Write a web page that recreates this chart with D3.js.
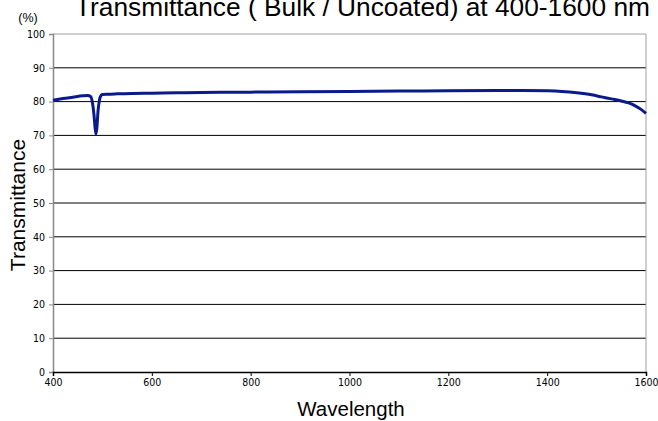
<!DOCTYPE html>
<html>
<head>
<meta charset="utf-8">
<script src="https://cdn.jsdelivr.net/npm/d3@7"></script>
<style>
  body { margin: 0; background: #fff; }
  text { font-family: "Liberation Sans", Arial, sans-serif; }
</style>
</head>
<body>
<script>
//Width and height
var w = 658;
var h = 421;

//Chart data
var wavelength = [400, 420, 440, 460, 470, 476, 480, 483, 485, 487, 489, 491, 494, 497, 500,
                  510, 530, 560, 600, 650, 700, 800, 900, 1000, 1100, 1200, 1300, 1350,
                  1400, 1430, 1460, 1490, 1510, 1530, 1550, 1565, 1580, 1590, 1600];
var transmittance = [80.4, 80.9, 81.3, 81.7, 81.8, 81.5, 79.5, 76, 72.5, 70.4, 72.5, 77, 80.5, 81.8, 82.1,
                     82.2, 82.3, 82.4, 82.5, 82.6, 82.7, 82.8, 82.9, 83.0, 83.1, 83.2, 83.3, 83.3,
                     83.2, 83.0, 82.6, 82.0, 81.4, 80.8, 80.2, 79.6, 78.6, 77.7, 76.5];
var xTicks = [400, 600, 800, 1000, 1200, 1400, 1600];
var yTicks = [0, 10, 20, 30, 40, 50, 60, 70, 80, 90, 100];

//Plot area
var plotLeft = 53, plotRight = 646, plotTop = 34, plotBottom = 372;

var x = d3.scaleLinear().domain([400, 1600]).range([plotLeft, plotRight]);
var y = d3.scaleLinear().domain([0, 100]).range([plotBottom, plotTop]);

var svg = d3.select("body")
            .append("svg")
            .attr("width", w)
            .attr("height", h);

//Horizontal grid lines
svg.selectAll("line.grid")
   .data(yTicks.filter(function(d) { return d > 0 && d < 100; }))
   .enter()
   .append("line")
   .attr("class", "grid")
   .attr("x1", plotLeft)
   .attr("x2", plotRight)
   .attr("y1", function(d) { return y(d); })
   .attr("y2", function(d) { return y(d); })
   .attr("stroke", "#000")
   .attr("stroke-width", 1);

//Frame: top and right in grey
svg.append("path")
   .attr("d", "M" + plotLeft + "," + y(100) + "H" + plotRight + "V" + plotBottom)
   .attr("fill", "none")
   .attr("stroke", "#a0a0a0")
   .attr("stroke-width", 1);

//Y axis
var yAxis = svg.append("g")
   .attr("transform", "translate(" + plotLeft + ",0)")
   .call(d3.axisLeft(y).tickValues(yTicks).tickSize(4).tickPadding(4));
yAxis.select(".domain").attr("stroke", "#888").attr("stroke-width", 1.5);
yAxis.selectAll(".tick line").attr("stroke", "#888");
yAxis.selectAll("text").attr("font-size", 10.5).attr("fill", "#000")
     .style("font-family", "'DejaVu Sans Condensed', 'Liberation Sans', sans-serif");

//X axis
var xAxis = svg.append("g")
   .attr("transform", "translate(0," + plotBottom + ")")
   .call(d3.axisBottom(x).tickValues(xTicks).tickFormat(d3.format("d")).tickSize(4).tickPadding(3));
xAxis.select(".domain").attr("stroke", "#000").attr("stroke-width", 1.5);
xAxis.selectAll(".tick line").attr("stroke", "#000");
xAxis.selectAll("text").attr("font-size", 10.5).attr("fill", "#000")
     .style("font-family", "'DejaVu Sans Condensed', 'Liberation Sans', sans-serif");

//Curve
var line = d3.line()
   .x(function(d, i) { return x(wavelength[i]); })
   .y(function(d) { return y(d); })
   .curve(d3.curveMonotoneX);

svg.append("path")
   .datum(transmittance)
   .attr("d", line)
   .attr("fill", "none")
   .attr("stroke", "#0a1a8a")
   .attr("stroke-width", 3)
   .attr("stroke-linejoin", "round");

//Titles
svg.append("text")
   .attr("x", 75)
   .attr("y", 15.5)
   .attr("font-size", 26.3)
   .attr("fill", "#000")
   .text("Transmittance ( Bulk / Uncoated) at 400-1600 nm");

svg.append("text")
   .attr("x", 28)
   .attr("y", 22)
   .attr("text-anchor", "middle")
   .attr("font-size", 12.5)
   .text("(%)");

svg.append("text")
   .attr("transform", "translate(25,205) rotate(-90)")
   .attr("text-anchor", "middle")
   .attr("font-size", 21)
   .text("Transmittance");

svg.append("text")
   .attr("x", 351)
   .attr("y", 416)
   .attr("text-anchor", "middle")
   .attr("font-size", 20.5)
   .text("Wavelength");
</script>
</body>
</html>
